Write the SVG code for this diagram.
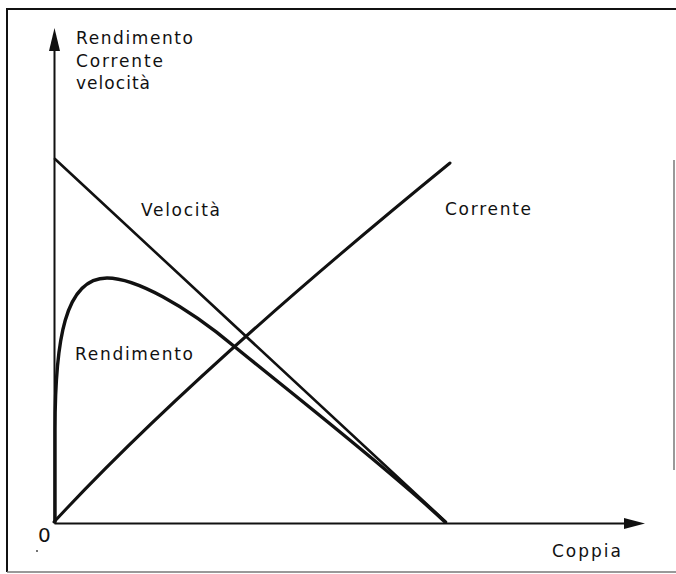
<svg xmlns="http://www.w3.org/2000/svg" width="676" height="574" viewBox="0 0 676 574">
  <style>
    .frame { fill: none; stroke: #111; stroke-width: 2; }
    .frame2 { fill: none; stroke: #777; stroke-width: 1.5; }
    .axis { fill: none; stroke: #111; stroke-width: 2; }
    .curve { fill: none; stroke: #111; stroke-linecap: round; stroke-linejoin: round; }
    .lbl { font-family: "DejaVu Sans", "Liberation Sans", Arial, sans-serif; font-size: 17px; fill: #111; }
  </style>
  <rect x="0" y="0" width="676" height="574" fill="#ffffff"/>
  <g id="frame">
    <path class="frame" d="M7,572 L7,9 L676,9"/>
    <path class="frame2" d="M7,572 L676,572"/>
    <path class="frame2" d="M674,160 L674,470"/>
  </g>
  <g id="axes">
    <path class="axis" d="M54.5,523 L54.5,48"/>
    <polygon points="54.5,28 49,51 60,51" fill="#111"/>
    <path class="axis" d="M54.5,523.5 L627,523.5"/>
    <polygon points="645,523.5 624,518 624,529" fill="#111"/>
  </g>
  <g id="connectors">
    <path id="velocita-line" class="curve" style="stroke-width:2.6" d="M55,159 L446,522"/>
    <path id="corrente-line" class="curve" style="stroke-width:3" d="M54,522 Q190,375 450,163"/>
    <path id="rendimento-curve" class="curve" style="stroke-width:3.4" d="M55,522 L55,430 C55,340 65,278 107,278 C135,278 185,305 235,347 C290,392 390,470 445,522"/>
  </g>
  <g id="labels">
    <text class="lbl" x="76" y="44" textLength="117" lengthAdjust="spacing">Rendimento</text>
    <text class="lbl" x="76" y="67" textLength="87" lengthAdjust="spacing">Corrente</text>
    <text class="lbl" x="76" y="89" textLength="74" lengthAdjust="spacing">velocità</text>
    <text class="lbl" x="141" y="216" textLength="79" lengthAdjust="spacing">Velocità</text>
    <text class="lbl" x="445" y="215" textLength="86" lengthAdjust="spacing">Corrente</text>
    <text class="lbl" x="75" y="360" textLength="118" lengthAdjust="spacing">Rendimento</text>
    <text class="lbl" x="552" y="557" textLength="69" lengthAdjust="spacing">Coppia</text>
    <text class="lbl" x="38" y="542" style="font-size:20px">0</text>
    <circle cx="37" cy="551" r="1" fill="#444"/>
  </g>
</svg>
